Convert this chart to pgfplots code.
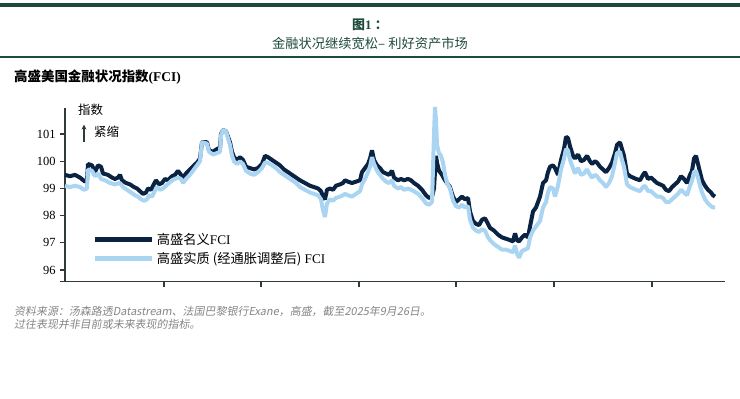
\documentclass[border=0pt]{standalone}
\usepackage{fontspec}
\setmainfont{Liberation Serif}
\newfontfamily\cjk{Noto Sans CJK SC}
\newfontfamily\cjkit[FakeSlant=0.18]{Noto Sans CJK SC}
\usepackage{pgfplots}
\usetikzlibrary{arrows.meta}
\pgfplotsset{compat=1.18}
\definecolor{dkgreen}{HTML}{1E4A3C}
\definecolor{navy}{HTML}{0B2343}
\definecolor{ltblue}{HTML}{A9D5F2}
\definecolor{axcol}{HTML}{2F3B36}
\definecolor{ftgray}{HTML}{858585}

\pgfplotstableread{
x y
65 99.5
70 99.45
75 99.5
80 99.4
85 99.25
87 99.3
88 99.9
92 99.85
95 99.6
98 99.85
101 99.8
103 99.55
108 99.5
112 99.4
115 99.35
118 99.4
120 99.5
122 99.3
126 99.2
130 99.15
134 99.05
137 99.0
140 98.9
143 98.8
146 98.85
148 99.0
151 98.95
153 99.1
156 99.3
159 99.15
162 99.2
165 99.35
168 99.3
172 99.45
175 99.5
178 99.65
181 99.5
183 99.4
186 99.55
190 99.7
194 99.85
197 99.95
200 100.1
202 100.7
207 100.7
209 100.4
213 100.35
217 100.45
220 100.5
221 101.0
223 101.15
226 101.1
228 100.9
230 100.7
232 100.35
234 100.15
237 100.05
240 100.15
243 100.05
246 99.8
250 99.75
254 99.7
258 99.75
262 99.9
265 100.2
268 100.15
272 100.05
276 99.95
280 99.85
284 99.7
288 99.6
292 99.5
296 99.4
300 99.3
305 99.2
310 99.1
314 99.05
318 99.0
321 98.9
323 98.7
325 98.6
327 98.95
330 99.0
333 98.95
336 99.1
340 99.15
343 99.2
345 99.3
348 99.25
352 99.2
356 99.25
360 99.3
362 99.6
365 99.75
368 99.9
370 100.1
372 100.4
374 100.05
377 99.85
380 99.75
383 99.6
386 99.55
389 99.5
392 99.65
394 99.4
398 99.3
401 99.35
404 99.3
408 99.35
411 99.3
414 99.2
418 99.1
422 98.95
426 98.75
429 98.65
432 98.7
434 99.0
436 100.2
437 99.95
439 99.65
442 99.5
445 99.3
448 99.15
450 99.05
453 98.7
456 98.5
459 98.6
462 98.7
465 98.6
468 98.65
470 98.15
473 97.8
476 97.7
479 97.65
482 97.85
485 97.9
488 97.7
490 97.55
494 97.45
498 97.3
502 97.2
506 97.15
510 97.1
513 97.05
515 97.35
517 97.1
519 97.05
522 97.2
525 97.3
528 97.2
530 97.6
533 98.15
536 98.3
538 98.5
540 98.7
543 99.2
546 99.3
548 99.6
550 99.8
553 99.85
555 99.75
558 99.5
561 100.05
564 100.45
566 100.9
568 100.85
570 100.55
573 100.2
575 100.1
578 100.25
581 100.0
584 100.05
587 100.2
590 100.0
592 99.9
595 100.0
597 99.95
600 99.8
603 99.7
606 99.6
609 99.75
612 99.95
615 100.3
617 100.6
620 100.7
622 100.45
624 100.2
627 99.55
630 99.45
633 99.4
636 99.35
640 99.3
643 99.5
645 99.6
648 99.35
651 99.4
654 99.3
657 99.2
660 99.15
663 99.1
666 98.95
669 98.9
672 99.05
675 99.15
678 99.25
681 99.45
684 99.35
687 99.2
690 99.5
692 99.65
694 100.1
696 100.2
698 99.9
700 99.6
702 99.3
705 99.1
708 98.95
711 98.85
713 98.75
715 98.7
}\nominal

\pgfplotstableread{
x y
65 99.1
70 99.05
75 99.1
80 99.05
84 98.95
87 99.0
88 99.7
92 99.65
95 99.45
98 99.55
101 99.35
105 99.3
110 99.2
115 99.15
120 99.2
123 99.05
127 98.95
131 98.85
135 98.75
138 98.7
141 98.6
144 98.55
147 98.6
149 98.75
152 98.7
154 98.85
157 99.05
160 98.95
163 99.0
166 99.1
169 99.2
172 99.3
175 99.35
178 99.4
181 99.35
183 99.2
186 99.35
190 99.5
194 99.7
197 99.85
200 100.0
202 100.7
207 100.65
209 100.35
213 100.25
217 100.3
220 100.35
221 100.95
223 101.15
226 101.1
228 100.85
230 100.6
232 100.2
234 100.0
237 99.9
240 100.0
243 99.9
246 99.65
250 99.55
254 99.5
258 99.6
262 99.75
265 99.95
268 99.95
272 99.85
276 99.75
280 99.6
284 99.5
288 99.4
292 99.3
296 99.2
300 99.05
305 98.95
310 98.85
314 98.8
318 98.75
321 98.6
323 98.2
325 97.95
327 98.45
330 98.6
333 98.55
336 98.65
340 98.7
343 98.75
345 98.8
348 98.75
352 98.7
356 98.8
360 98.9
362 99.15
365 99.35
368 99.6
370 99.8
372 100.15
374 99.9
377 99.65
380 99.5
383 99.35
386 99.25
389 99.2
392 99.3
394 99.1
398 99.0
401 99.05
404 98.95
408 99.0
411 98.95
414 98.9
418 98.8
422 98.65
426 98.45
429 98.4
432 98.5
434 101.0
435 102.0
436 101.5
437 100.6
439 100.3
441 100.2
443 99.95
445 99.5
447 99.2
450 99.0
453 98.55
456 98.35
459 98.3
462 98.4
465 98.3
468 98.35
470 97.85
473 97.55
476 97.45
479 97.4
482 97.5
485 97.45
488 97.2
490 97.1
494 96.95
498 96.85
502 96.75
506 96.75
510 96.7
513 96.65
515 96.9
517 96.6
519 96.45
522 96.7
525 96.75
528 96.8
530 97.2
533 97.45
536 97.6
538 97.7
540 97.8
543 98.3
546 98.5
548 98.85
550 99.05
553 99.0
555 98.7
558 99.1
561 99.7
564 100.1
566 100.45
568 100.4
570 100.05
573 99.75
575 99.55
578 99.75
581 99.5
584 99.55
587 99.7
590 99.5
592 99.4
595 99.5
597 99.45
600 99.3
603 99.2
606 99.05
609 99.2
612 99.45
615 99.95
617 100.3
620 100.35
622 100.05
624 99.8
627 99.15
630 99.05
633 99.0
636 98.95
640 98.9
643 99.05
645 99.1
648 98.9
651 98.9
654 98.8
657 98.7
660 98.7
663 98.65
666 98.5
669 98.5
672 98.6
675 98.7
678 98.8
681 98.95
684 98.85
687 98.75
690 99.1
692 99.3
694 99.6
696 99.65
698 99.4
700 99.1
702 98.85
705 98.6
708 98.45
711 98.35
713 98.3
715 98.3
}\real

\begin{document}
\begin{tikzpicture}[x=1bp,y=1bp]
\useasboundingbox (0,0) rectangle (740,398);
% header rules
\fill[dkgreen] (0,391) rectangle (740,394.5);
\fill[dkgreen] (0,340) rectangle (740,342);
\node[text=dkgreen, font={\fontsize{13}{15}\selectfont\bfseries}] at (370,373) {{\cjk\bfseries 图}1 {\cjk ：}};
\node[text=dkgreen, font={\fontsize{13.3}{15}\selectfont\cjk}] at (370,355) {金融状况继续宽松– 利好资产市场};
\node[anchor=west, inner sep=0pt, font={\fontsize{13.5}{15}\selectfont}] at (14,321) {{\cjk\bfseries 高盛美国金融状况指数}\textbf{(FCI)}};
\node[anchor=west, inner sep=0pt, text=ftgray, font={\fontsize{11}{13}\selectfont\cjkit}] at (14,87) {资料来源：汤森路透Datastream、法国巴黎银行Exane，高盛，截至2025年9月26日。};
\node[anchor=west, inner sep=0pt, text=ftgray, font={\fontsize{11}{13}\selectfont\cjkit}] at (14,74) {过往表现并非目前或未来表现的指标。};

\begin{axis}[
  at={(65bp,116.3bp)}, anchor=south west,
  scale only axis, width=660bp, height=174bp,
  xmin=65, xmax=725, ymin=95.57, ymax=101.97,
  axis x line*=bottom, axis y line*=left,
  axis line style={axcol, line width=1.3pt},
  every outer x axis line/.append style={shorten <=-5bp},
  xtick={164,261,359,456,554,652}, xticklabels={},
  ytick={96,97,98,99,100,101},
  tick align=outside, major tick length=5bp,
  tick style={axcol, line width=1.3pt},
  yticklabel style={font={\fontsize{12.5}{14}\selectfont}, xshift=-1bp},
  /pgf/number format/assume math mode=true,
  clip=false,
  legend style={at={(0.042,0.187)}, anchor=west, draw=none, fill=none,
    font={\fontsize{13.3}{15}\selectfont}, row sep=2bp, inner sep=0pt,
    legend cell align=left},
  legend image code/.code={\draw[#1, line width=5bp] (0bp,0bp) -- (57bp,0bp);},
]
\addplot[navy, line width=4bp, line join=bevel] table[x=x,y=y] {\nominal};
\addlegendentry{{\cjk 高盛名义}FCI}
\addplot[ltblue, line width=4bp, line join=bevel] table[x=x,y=y] {\real};
\addlegendentry{{\cjk 高盛实质 (经通胀调整后)} FCI}
\node[anchor=west, inner sep=0pt, font={\fontsize{12.5}{14}\selectfont\cjk}] at (axis cs:78,101.9) {指数};
\draw[-{Stealth[length=5bp,width=5bp]}, axcol, line width=1.2pt] (axis cs:84,100.72) -- (axis cs:84,101.35);
\node[anchor=west, inner sep=0pt, font={\fontsize{12.5}{14}\selectfont\cjk}] at (axis cs:94,101.08) {紧缩};
\end{axis}
\end{tikzpicture}
\end{document}
